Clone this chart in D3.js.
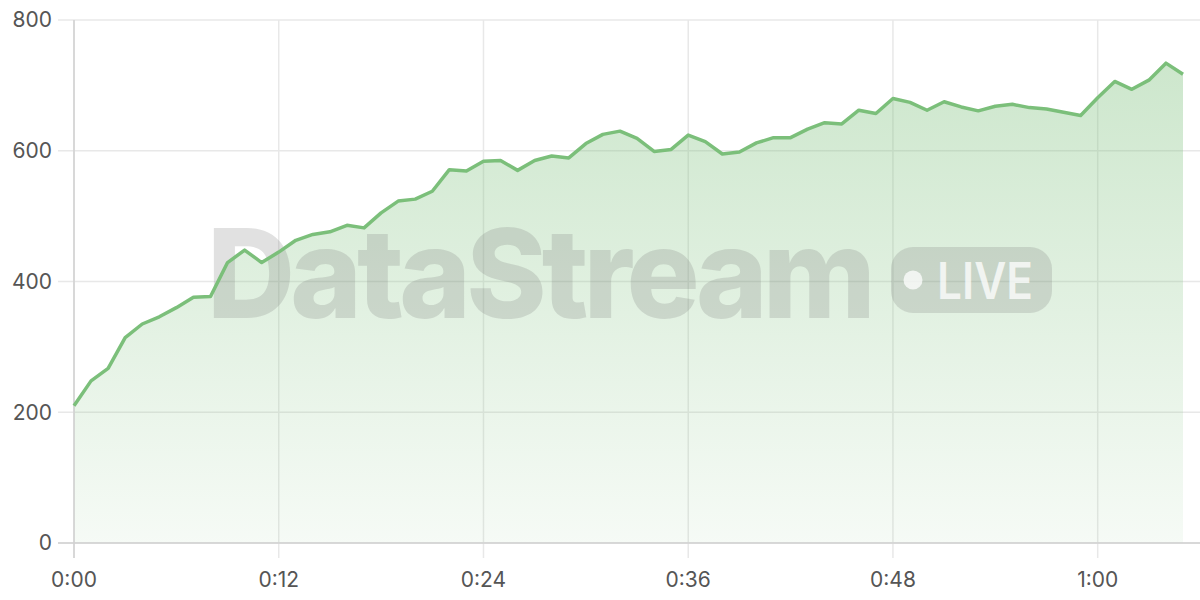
<!DOCTYPE html>
<html>
<head>
<meta charset="utf-8">
<script src="https://cdn.jsdelivr.net/npm/d3@7"></script>
<style>
  html, body { margin: 0; padding: 0; background: #fff; }
  svg { display: block; }
</style>
</head>
<body>
<div id="chart"></div>
<script>
// one reading per second, 0:00 .. 1:05
const values = [
  210, 248, 267, 314, 335, 346, 360, 376, 377, 429,
  448, 429, 445, 463, 472, 476, 486, 482, 505, 523,
  526, 538, 571, 569, 584, 585, 570, 585, 592, 589,
  611, 625, 630, 619, 599, 602, 624, 614, 595, 598,
  612, 620, 620, 633, 643, 641, 662, 657, 680, 674,
  662, 675, 667, 661, 668, 671, 666, 664, 659, 654,
  681, 706, 694, 708, 734, 717
];
const seconds = d3.range(values.length);
const xTicks = [0, 12, 24, 36, 48, 60];
const yTicks = [0, 200, 400, 600, 800];

function fmtTime(s) {
  return Math.floor(s / 60) + ":" + String(s % 60).padStart(2, "0");
}

function main() {
  const width = 1200, height = 600;
  const margin = {top: 20, right: 17, bottom: 57, left: 74};

  const svg = d3.select("#chart").append("svg")
      .attr("width", width)
      .attr("height", height)
      .attr("font-family", "Inter, 'Noto Sans', sans-serif");

  const x = d3.scaleLinear()
      .domain([0, 65])
      .range([margin.left, width - margin.right]);

  const y = d3.scaleLinear()
      .domain([0, 800])
      .range([height - margin.bottom, margin.top]);

  const defs = svg.append("defs");
  const grad = defs.append("linearGradient")
      .attr("id", "fill")
      .attr("x1", 0).attr("y1", 0).attr("x2", 0).attr("y2", 1);
  grad.append("stop").attr("offset", "0%").attr("stop-color", "#7bbf7a").attr("stop-opacity", 0.38);
  grad.append("stop").attr("offset", "100%").attr("stop-color", "#7bbf7a").attr("stop-opacity", 0.07);

  // grid
  svg.append("g")
    .selectAll("line")
    .data(yTicks)
    .join("line")
      .attr("x1", margin.left - 16)
      .attr("x2", width)
      .attr("y1", d => y(d))
      .attr("y2", d => y(d))
      .attr("stroke", "#e8e8e8")
      .attr("stroke-width", 1.5);

  svg.append("g")
    .selectAll("line")
    .data(xTicks)
    .join("line")
      .attr("x1", d => x(d))
      .attr("x2", d => x(d))
      .attr("y1", margin.top)
      .attr("y2", height - margin.bottom + 15)
      .attr("stroke", "#e8e8e8")
      .attr("stroke-width", 1.5);

  // area
  const area = d3.area()
      .x((d, i) => x(seconds[i]))
      .y0(y(0))
      .y1(d => y(d));

  svg.append("path")
      .datum(values)
      .attr("fill", "url(#fill)")
      .attr("d", area);

  // axis lines
  svg.append("line")
      .attr("x1", x(0)).attr("x2", x(0))
      .attr("y1", margin.top).attr("y2", height - margin.bottom + 15)
      .attr("stroke", "#d0d0d0").attr("stroke-width", 1.5);
  svg.append("line")
      .attr("x1", margin.left - 16).attr("x2", width)
      .attr("y1", y(0)).attr("y2", y(0))
      .attr("stroke", "#d0d0d0").attr("stroke-width", 1.5);

  // watermark
  const wm = svg.append("g").attr("pointer-events", "none");
  wm.append("text")
      .attr("x", 207)
      .attr("y", 318)
      .attr("font-size", 124)
      .attr("font-weight", 800)
      .attr("letter-spacing", -5)
      .attr("textLength", 664)
      .attr("lengthAdjust", "spacingAndGlyphs")
      .attr("fill", "#777")
      .attr("fill-opacity", 0.22)
      .text("DataStream");
  wm.append("rect")
      .attr("x", 891).attr("y", 247)
      .attr("width", 161).attr("height", 66)
      .attr("rx", 22)
      .attr("fill", "#777")
      .attr("fill-opacity", 0.22);
  wm.append("circle")
      .attr("cx", 913).attr("cy", 280).attr("r", 9.5)
      .attr("fill", "#fff").attr("fill-opacity", 0.75);
  wm.append("text")
      .attr("x", 937)
      .attr("y", 299)
      .attr("font-size", 51)
      .attr("font-weight", 600)
      .attr("textLength", 96)
      .attr("lengthAdjust", "spacingAndGlyphs")
      .attr("fill", "#fff")
      .attr("fill-opacity", 0.75)
      .text("LIVE");

  // line
  const line = d3.line()
      .x((d, i) => x(seconds[i]))
      .y(d => y(d));

  svg.append("path")
      .datum(values)
      .attr("fill", "none")
      .attr("stroke", "#7bbf7a")
      .attr("stroke-width", 3.5)
      .attr("stroke-linejoin", "round")
      .attr("d", line);

  // tick labels
  svg.append("g")
    .selectAll("text")
    .data(yTicks)
    .join("text")
      .attr("x", 52)
      .attr("y", d => y(d))
      .attr("dy", "0.35em")
      .attr("text-anchor", "end")
      .attr("font-size", 21)
      .attr("fill", "#555")
      .text(d => d);

  svg.append("g")
    .selectAll("text")
    .data(xTicks)
    .join("text")
      .attr("x", d => x(d))
      .attr("y", 580)
      .attr("dy", "0.35em")
      .attr("text-anchor", "middle")
      .attr("font-size", 21)
      .attr("fill", "#555")
      .text(d => fmtTime(d));
}

main();
</script>
</body>
</html>
